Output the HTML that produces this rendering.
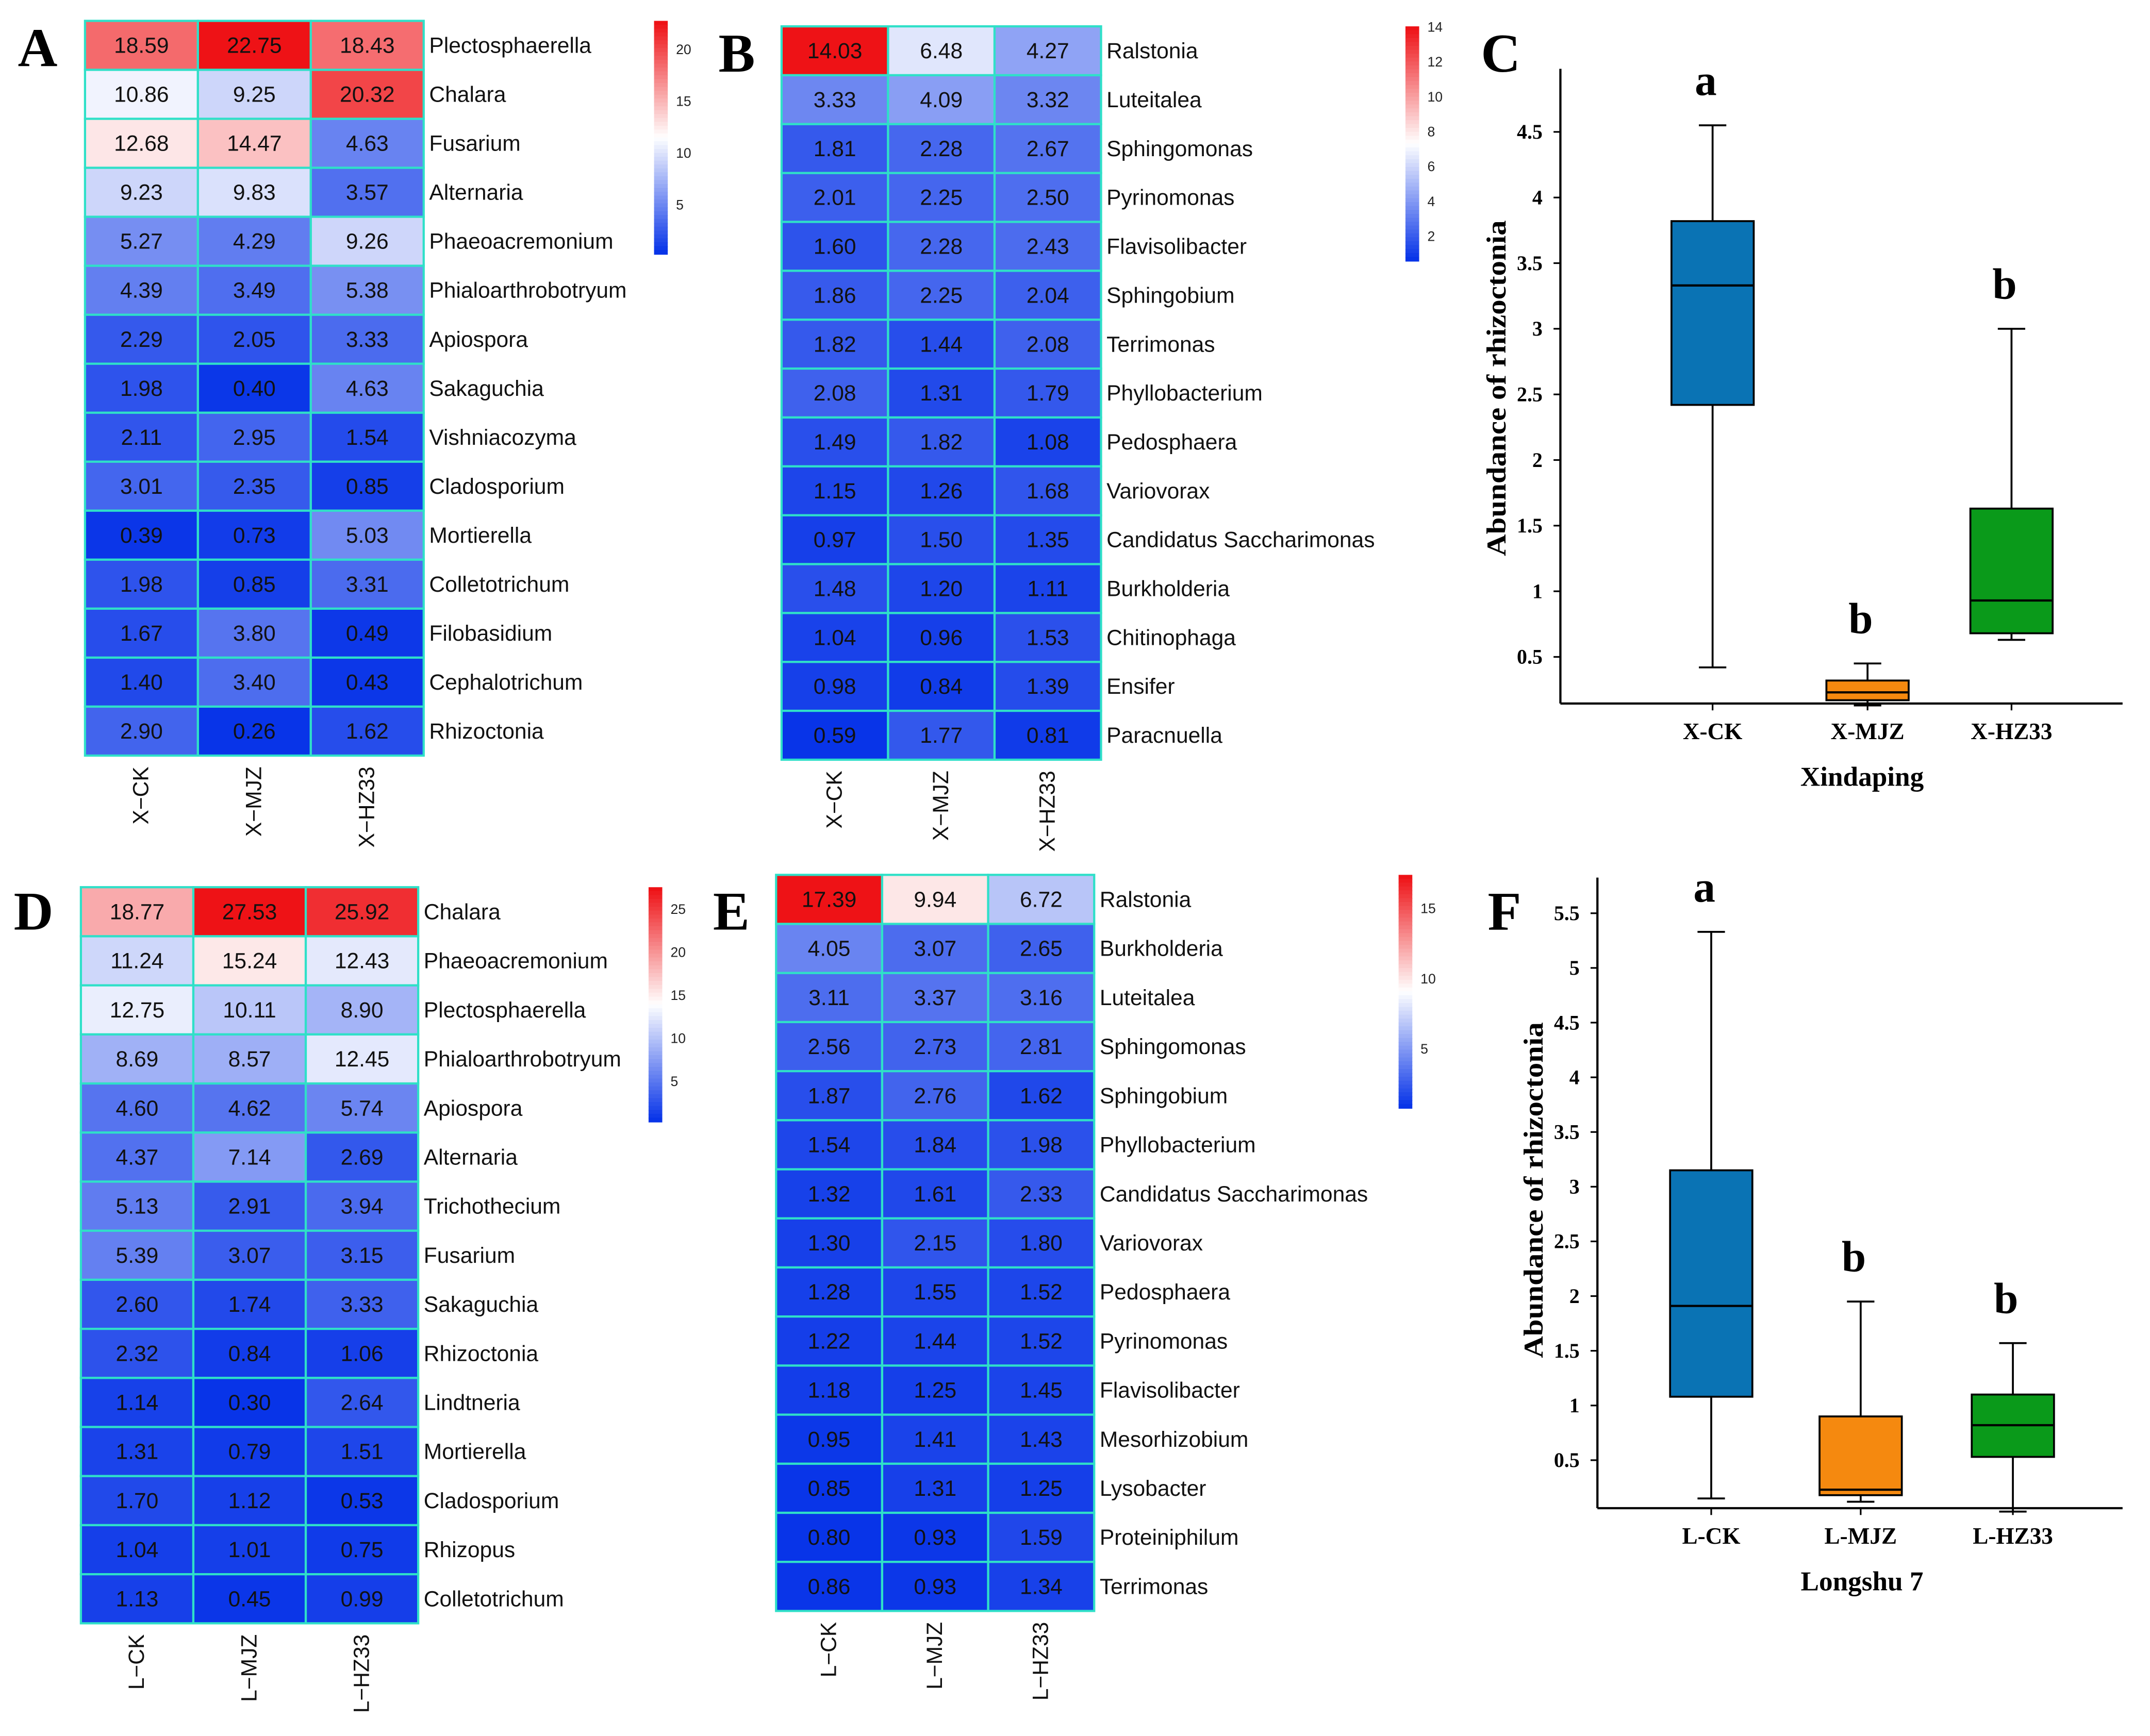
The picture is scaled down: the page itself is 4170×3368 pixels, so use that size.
<!DOCTYPE html>
<html><head><meta charset="utf-8"><style>
html,body{margin:0;padding:0;background:#fff;}
svg{display:block;}
.ht{font-family:"Liberation Sans",sans-serif;font-size:16px;fill:#111;}
.lab{font-family:"Liberation Sans",sans-serif;font-size:16px;fill:#111;}
.cb{font-family:"Liberation Sans",sans-serif;font-size:10px;fill:#222;}
.pl{font-family:"Liberation Serif",serif;font-weight:bold;font-size:40px;fill:#000;}
.bx{font-family:"Liberation Serif",serif;font-weight:bold;fill:#000;}
</style></head><body>
<svg id="fig" width="4170" height="3368" viewBox="0 0 1568 1266" xmlns="http://www.w3.org/2000/svg">
<text class="pl" x="13" y="48">A</text>
<text class="pl" x="524" y="52">B</text>
<text class="pl" x="1080" y="52">C</text>
<text class="pl" x="10" y="678">D</text>
<text class="pl" x="520" y="678">E</text>
<text class="pl" x="1085" y="678">F</text>
</svg>
<script>
const aRows=["Plectosphaerella","Chalara","Fusarium","Alternaria","Phaeoacremonium","Phialoarthrobotryum","Apiospora","Sakaguchia","Vishniacozyma","Cladosporium","Mortierella","Colletotrichum","Filobasidium","Cephalotrichum","Rhizoctonia"];
const aCols=["X\u2212CK","X\u2212MJZ","X\u2212HZ33"];
const aVals=[[18.59,22.75,18.43],[10.86,9.25,20.32],[12.68,14.47,4.63],[9.23,9.83,3.57],[5.27,4.29,9.26],[4.39,3.49,5.38],[2.29,2.05,3.33],[1.98,0.40,4.63],[2.11,2.95,1.54],[3.01,2.35,0.85],[0.39,0.73,5.03],[1.98,0.85,3.31],[1.67,3.80,0.49],[1.40,3.40,0.43],[2.90,0.26,1.62]];
const aTicks=[5,10,15,20];
const bRows=["Ralstonia","Luteitalea","Sphingomonas","Pyrinomonas","Flavisolibacter","Sphingobium","Terrimonas","Phyllobacterium","Pedosphaera","Variovorax","Candidatus Saccharimonas","Burkholderia","Chitinophaga","Ensifer","Paracnuella"];
const bCols=["X\u2212CK","X\u2212MJZ","X\u2212HZ33"];
const bVals=[[14.03,6.48,4.27],[3.33,4.09,3.32],[1.81,2.28,2.67],[2.01,2.25,2.50],[1.60,2.28,2.43],[1.86,2.25,2.04],[1.82,1.44,2.08],[2.08,1.31,1.79],[1.49,1.82,1.08],[1.15,1.26,1.68],[0.97,1.50,1.35],[1.48,1.20,1.11],[1.04,0.96,1.53],[0.98,0.84,1.39],[0.59,1.77,0.81]];
const bTicks=[2,4,6,8,10,12,14];
const dRows=["Chalara","Phaeoacremonium","Plectosphaerella","Phialoarthrobotryum","Apiospora","Alternaria","Trichothecium","Fusarium","Sakaguchia","Rhizoctonia","Lindtneria","Mortierella","Cladosporium","Rhizopus","Colletotrichum"];
const dCols=["L\u2212CK","L\u2212MJZ","L\u2212HZ33"];
const dVals=[[18.77,27.53,25.92],[11.24,15.24,12.43],[12.75,10.11,8.90],[8.69,8.57,12.45],[4.60,4.62,5.74],[4.37,7.14,2.69],[5.13,2.91,3.94],[5.39,3.07,3.15],[2.60,1.74,3.33],[2.32,0.84,1.06],[1.14,0.30,2.64],[1.31,0.79,1.51],[1.70,1.12,0.53],[1.04,1.01,0.75],[1.13,0.45,0.99]];
const dTicks=[5,10,15,20,25];
const eRows=["Ralstonia","Burkholderia","Luteitalea","Sphingomonas","Sphingobium","Phyllobacterium","Candidatus Saccharimonas","Variovorax","Pedosphaera","Pyrinomonas","Flavisolibacter","Mesorhizobium","Lysobacter","Proteiniphilum","Terrimonas"];
const eCols=["L\u2212CK","L\u2212MJZ","L\u2212HZ33"];
const eVals=[[17.39,9.94,6.72],[4.05,3.07,2.65],[3.11,3.37,3.16],[2.56,2.73,2.81],[1.87,2.76,1.62],[1.54,1.84,1.98],[1.32,1.61,2.33],[1.30,2.15,1.80],[1.28,1.55,1.52],[1.22,1.44,1.52],[1.18,1.25,1.45],[0.95,1.41,1.43],[0.85,1.31,1.25],[0.80,0.93,1.59],[0.86,0.93,1.34]];
const eTicks=[5,10,15];
// boxplots: [min,q1,median,q3,max]
const cCats=["X-CK","X-MJZ","X-HZ33"];
const cStats=[[0.42,2.42,3.33,3.82,4.55],[0.13,0.17,0.23,0.32,0.45],[0.63,0.68,0.93,1.63,3.0]];
const cSig=["a","b","b"];
const cTicks=[0.5,1,1.5,2,2.5,3,3.5,4,4.5];
const fCats=["L-CK","L-MJZ","L-HZ33"];
const fStats=[[0.15,1.08,1.91,3.15,5.33],[0.12,0.18,0.23,0.9,1.95],[0.03,0.53,0.82,1.1,1.57]];
const fSig=["a","b","b"];
const fTicks=[0.5,1,1.5,2,2.5,3,3.5,4,4.5,5,5.5];

const NS="http://www.w3.org/2000/svg";
const svg=document.getElementById('fig');
function mk(tag,attrs,parent){const e=document.createElementNS(NS,tag);for(const k in attrs)e.setAttribute(k,attrs[k]);(parent||svg).appendChild(e);return e;}
function lerp(a,b,t){return Math.round(a+(b-a)*t);}
function col(v,mn,mx){const mid=(mn+mx)/2;const lo=[8,52,232],w=[255,255,255],hi=[238,18,22];let c;
 if(v<=mid){const t=(v-mn)/(mid-mn);c=[0,1,2].map(i=>lerp(lo[i],w[i],t));}else{const t=(v-mid)/(mx-mid);c=[0,1,2].map(i=>lerp(w[i],hi[i],t));}
 return `rgb(${c[0]},${c[1]},${c[2]})`;}
function heat(id,rows,cols,vals,ticks,x0,y0,w,h,cbx,cby,cbh){
 const g=mk('g',{});
 
 
 const flat=vals.flat();const mn=Math.min(...flat),mx=Math.max(...flat);
 const cw=w/cols.length,rh=h/rows.length;
 rows.forEach((r,i)=>{
  cols.forEach((c,j)=>{
   const rc=mk('rect',{x:x0+j*cw,y:y0+i*rh,width:cw,height:rh,fill:col(vals[i][j],mn,mx),stroke:'#2fe0c8','stroke-width':1.6},g);
   
   
   const t=mk('text',{x:x0+j*cw+cw/2,y:y0+i*rh+rh/2+5.5,'text-anchor':'middle',class:'ht'},g);t.textContent=vals[i][j].toFixed(2);
   
   
  });
  const l=mk('text',{x:x0+w+4,y:y0+i*rh+rh/2+5.5,class:'lab'},g);l.textContent=r;
  
  
 });
 cols.forEach((c,j)=>{const cx=x0+j*cw+cw/2+5,cy=y0+h+8;
  const t=mk('text',{x:cx,y:cy,transform:`rotate(-90 ${cx} ${cy})`,'text-anchor':'end',class:'lab'},g);t.textContent=c;
  
  
 });
 const n=60;for(let k=0;k<n;k++){const v=mx-(mx-mn)*k/(n-1);
  mk('rect',{x:cbx,y:cby+cbh*k/n,width:10,height:cbh/n+0.6,fill:col(v,mn,mx)},g);}
 ticks.forEach(tk=>{const y=cby+cbh*(mx-tk)/(mx-mn);
  const t=mk('text',{x:cbx+16,y:y+3.5,class:'cb'},g);t.textContent=tk;
  
  });
}
heat('a',aRows,aCols,aVals,aTicks,62,15,247,536,477,15,170);
heat('b',bRows,bCols,bVals,bTicks,570,19,233,535,1025,19,171);
heat('d',dRows,dCols,dVals,dTicks,59,647,246,537,473,647,171);
heat('e',eRows,eCols,eVals,eTicks,566,638,232,537,1020,638,170);

const boxCols=['#0a73b4','#f5890f','#0a9a1a'];
function box(id,cats,stats,sig,ticks,ax,ay,ytop,xright,yHalf,perUnit,xs,title,titleY){
 const g=mk('g',{});
 
 
 const Y=v=>yHalf-(v-0.5)*perUnit;
 mk('line',{x1:ax,y1:ytop,x2:ax,y2:ay,stroke:'#000','stroke-width':1.6},g);
 mk('line',{x1:ax,y1:ay,x2:xright,y2:ay,stroke:'#000','stroke-width':1.6},g);
 ticks.forEach(tk=>{const y=Y(tk);mk('line',{x1:ax-5,y1:y,x2:ax,y2:y,stroke:'#000','stroke-width':1.2},g);
  const t=mk('text',{x:ax-13,y:y+5,'text-anchor':'end',class:'bx','font-size':'15'},g);t.textContent=tk;
  
  });
 const yl=ax-40;
 const yt=mk('text',{x:yl,y:titleY,transform:`rotate(-90 ${yl} ${titleY})`,'text-anchor':'middle',class:'bx','font-size':'20',textLength:'245',lengthAdjust:'spacingAndGlyphs'},g);yt.textContent='Abundance of rhizoctonia';
 
 
 cats.forEach((c,i)=>{const x=xs[i],s=stats[i],bw=30;
  mk('line',{x1:x,y1:ay,x2:x,y2:ay+5,stroke:'#000','stroke-width':1.2},g);
  mk('line',{x1:x,y1:Y(s[0]),x2:x,y2:Y(s[4]),stroke:'#000','stroke-width':1.4},g);
  mk('line',{x1:x-10,y1:Y(s[0]),x2:x+10,y2:Y(s[0]),stroke:'#000','stroke-width':1.4},g);
  mk('line',{x1:x-10,y1:Y(s[4]),x2:x+10,y2:Y(s[4]),stroke:'#000','stroke-width':1.4},g);
  const r=mk('rect',{x:x-bw,y:Y(s[3]),width:bw*2,height:Y(s[1])-Y(s[3]),fill:boxCols[i],stroke:'#000','stroke-width':1.4},g);
  
  
  mk('line',{x1:x-bw,y1:Y(s[2]),x2:x+bw,y2:Y(s[2]),stroke:'#000','stroke-width':1.6},g);
  const t=mk('text',{x:x,y:ay+26,'text-anchor':'middle',class:'bx','font-size':'17'},g);t.textContent=c;
  
  
  const sg=mk('text',{x:x-5,y:Y(s[4])-22,'text-anchor':'middle',class:'bx','font-size':'32'},g);sg.textContent=sig[i];
  
  
 });
 const xt=mk('text',{x:(xs[0]+xs[2])/2,y:ay+60,'text-anchor':'middle',class:'bx','font-size':'20'},g);xt.textContent=title;
 
 
}
box('c',cCats,cStats,cSig,cTicks,1138,513,50,1548,479,95.75,[1249,1362,1467],'Xindaping',283);
box('f',fCats,fStats,fSig,fTicks,1165,1100,640,1548,1065,79.8,[1248,1357,1468],'Longshu 7',868);
</script>
</body></html>
